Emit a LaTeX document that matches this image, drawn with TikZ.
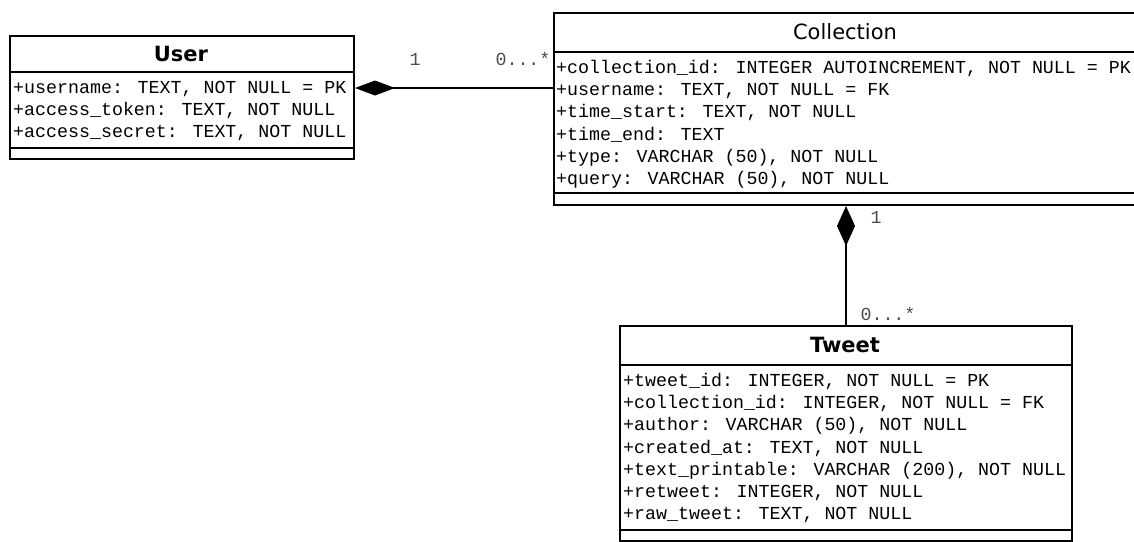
\documentclass[tikz,border=0pt]{standalone}
\usepackage{fontspec}
\setmainfont{DejaVu Sans}
\newfontfamily\monof{Liberation Mono}
\usetikzlibrary{arrows.meta}
\begin{document}
\begin{tikzpicture}[x=1pt,y=-1pt,
  umlbox/.style={draw, line width=2pt, inner sep=0pt, anchor=north west, fill=white},
  divider/.style={line width=2pt},
  ttl/.style={font=\fontsize{21}{25}\selectfont, inner sep=0pt, text height=15.3pt, text depth=0pt},
  ttlb/.style={font=\fontsize{21}{25}\selectfont\bfseries, inner sep=0pt, text height=15.3pt, text depth=0pt},
  attr/.style={font=\monof\fontsize{18.3}{22}\selectfont, anchor=west, inner sep=0pt, text height=11pt, text depth=0pt},
  mult/.style={font=\monof\fontsize{18.3}{22}\selectfont, text=black!70, inner sep=0pt, text height=11pt, text depth=0pt},
  comp/.style={line width=2pt, {Diamond[length=40pt,width=15pt]}-}
]
\useasboundingbox (0,0) rectangle (1134,541);
\clip (0,0) rectangle (1134,541);
\fill[white] (0,0) rectangle (1134,541);

% ---------- User ----------
\node[umlbox, minimum width=344pt, minimum height=123pt] (user) at (9,35) {};
\draw[divider] (user.west |- 0,72) -- (user.east |- 0,72);
\draw[divider] (user.west |- 0,148) -- (user.east |- 0,148);
\node[ttlb] (usert) at (181,53.5) {User};
\node[attr] (u1) at (13,88) {+username: TEXT, NOT NULL = PK};
\node[attr] (u2) at (13,110) {+access\_token: TEXT, NOT NULL};
\node[attr] (u3) at (13,132) {+access\_secret: TEXT, NOT NULL};

% ---------- Collection ----------
\node[umlbox, minimum width=584pt, minimum height=192pt] (coll) at (553,12) {};
\draw[divider] (coll.west |- 0,52) -- (coll.east |- 0,52);
\draw[divider] (coll.west |- 0,193) -- (coll.east |- 0,193);
\node[ttl] (collt) at (845,32) {Collection};
\node[attr] (c1) at (556,68) {+collection\_id: INTEGER AUTOINCREMENT, NOT NULL = PK};
\node[attr] (c2) at (556,90.2) {+username: TEXT, NOT NULL = FK};
\node[attr] (c3) at (556,112.4) {+time\_start: TEXT, NOT NULL};
\node[attr] (c4) at (556,134.6) {+time\_end: TEXT};
\node[attr] (c5) at (556,156.8) {+type: VARCHAR (50), NOT NULL};
\node[attr] (c6) at (556,179) {+query: VARCHAR (50), NOT NULL};

% ---------- Tweet ----------
\node[umlbox, minimum width=452pt, minimum height=215pt] (tweet) at (619,325) {};
\draw[divider] (tweet.west |- 0,365) -- (tweet.east |- 0,365);
\draw[divider] (tweet.west |- 0,530) -- (tweet.east |- 0,530);
\node[ttlb] (tweett) at (845,345) {Tweet};
\node[attr] (t1) at (623,381) {+tweet\_id: INTEGER, NOT NULL = PK};
\node[attr] (t2) at (623,403.2) {+collection\_id: INTEGER, NOT NULL = FK};
\node[attr] (t3) at (623,425.4) {+author: VARCHAR (50), NOT NULL};
\node[attr] (t4) at (623,447.6) {+created\_at: TEXT, NOT NULL};
\node[attr] (t5) at (623,469.8) {+text\_printable: VARCHAR (200), NOT NULL};
\node[attr] (t6) at (623,492) {+retweet: INTEGER, NOT NULL};
\node[attr] (t7) at (623,514.2) {+raw\_tweet: TEXT, NOT NULL};

% ---------- Connectors ----------
\draw[comp] (user.east |- u1) -- (coll.west |- u1);
\draw[line width=2pt, {Diamond[length=40pt,width=18pt]}-] (tweet.north |- coll.south) -- (tweet.north);

% ---------- Multiplicities ----------
\node[mult] (m1) at (415,60) {1};
\node[mult] (m2) at (523,60) {0...*};
\node[mult] (m3) at (876,218) {1};
\node[mult] (m4) at (888,315) {0...*};
\end{tikzpicture}
\end{document}
